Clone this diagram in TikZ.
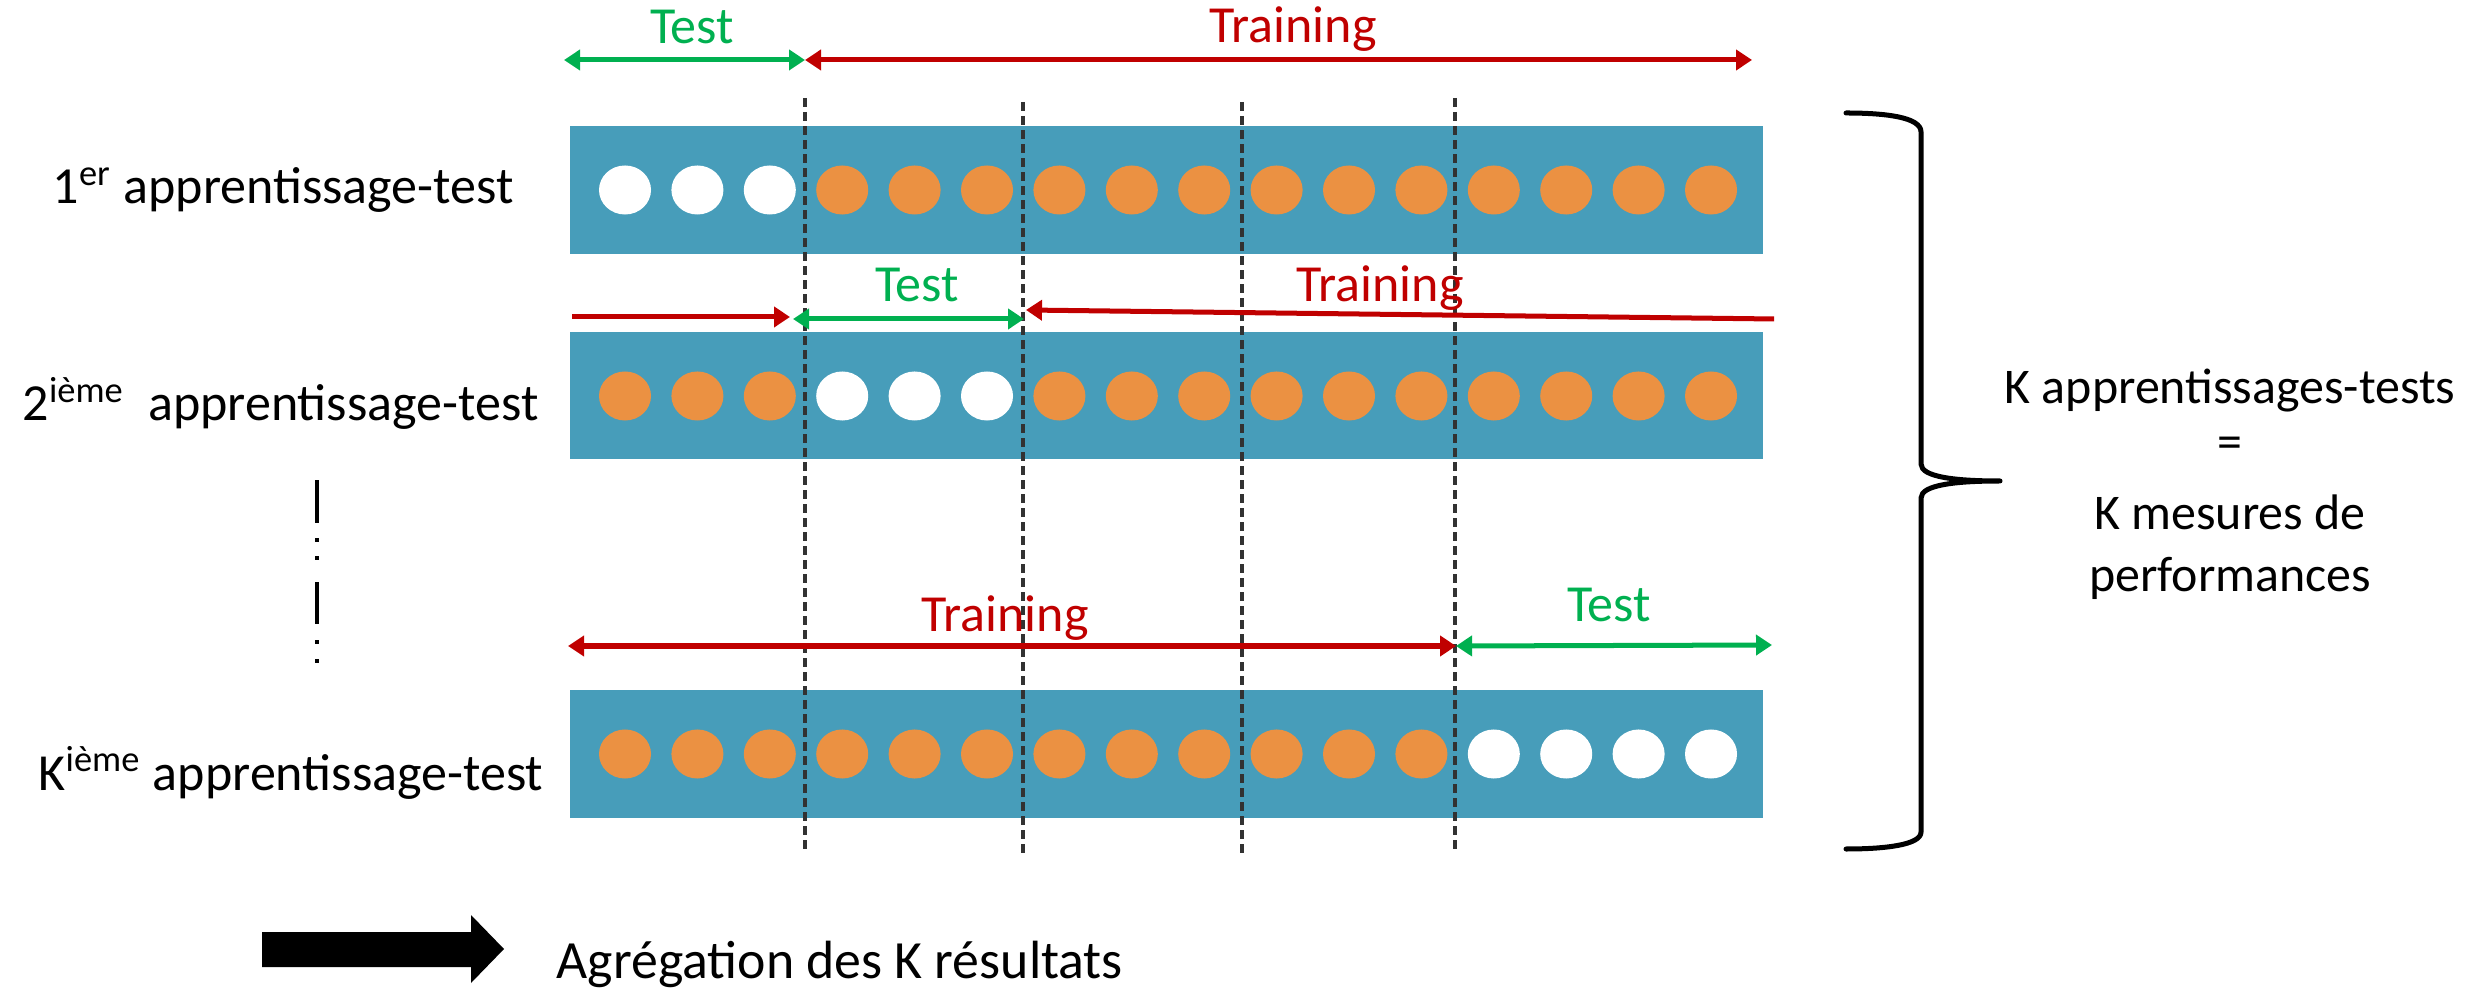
\documentclass[tikz,border=0pt]{standalone}
\usepackage{fontspec}
\setmainfont{Carlito}
\usetikzlibrary{arrows.meta}

\definecolor{barblue}{RGB}{71,157,186}
\definecolor{dotorange}{RGB}{235,145,66}
\definecolor{testgreen}{RGB}{0,176,80}
\definecolor{trainred}{RGB}{192,0,0}
\definecolor{splitgray}{RGB}{50,50,50}

\begin{document}
\begin{tikzpicture}[x=0.01cm, y=-0.01cm,
  foldbar/.style={fill=barblue},
  trainpt/.style={fill=dotorange},
  testpt/.style={fill=white},
  split/.style={draw=splitgray, line width=0.035cm, dash pattern=on 0.09cm off 0.05cm},
  span/.style={line width=0.05cm, arrows={-Triangle[length=0.16cm, width=0.2cm]}},
  bothspan/.style={line width=0.05cm, arrows={Triangle[length=0.16cm, width=0.2cm]-Triangle[length=0.16cm, width=0.2cm]}},
  phase/.style={font=\fontsize{14.8}{17}\selectfont, inner sep=0pt, anchor=base},
  rowlabel/.style={font=\fontsize{14.8}{17}\selectfont, inner sep=0pt, anchor=base west},
  summary/.style={font=\fontsize{14.2}{17}\selectfont, inner sep=0pt, anchor=base},
  brace/.style={draw=black, line width=0.05cm, line cap=round, line join=round}
]
\useasboundingbox (0,0) rectangle (2489,989);

% the three folds: blue bands
\fill[foldbar] (570,126) rectangle (1763,254);
\fill[foldbar] (570,332) rectangle (1763,459);
\fill[foldbar] (570,690) rectangle (1763,818);

% sixteen samples per fold; white ones are the test part
\foreach \i in {0,...,15}{
  \pgfmathsetmacro{\cx}{625+72.4*\i}
  \ifnum\i<3 \def\sA{testpt}\else\def\sA{trainpt}\fi
  \ifnum\i<3 \def\sB{trainpt}\else\ifnum\i<6 \def\sB{testpt}\else\def\sB{trainpt}\fi\fi
  \ifnum\i<12 \def\sC{trainpt}\else\def\sC{testpt}\fi
  \fill[\sA] (\cx,190) ellipse [x radius=0.26cm, y radius=0.245cm];
  \fill[\sB] (\cx,396) ellipse [x radius=0.26cm, y radius=0.245cm];
  \fill[\sC] (\cx,754) ellipse [x radius=0.26cm, y radius=0.245cm];
}

% fold boundaries
\coordinate (s1t) at (805,98);   \coordinate (s1b) at (805,853);
\coordinate (s2t) at (1023,102); \coordinate (s2b) at (1023,853);
\coordinate (s3t) at (1242,102); \coordinate (s3b) at (1242,853);
\coordinate (s4t) at (1455,98);  \coordinate (s4b) at (1455,853);
\draw[split] (s1t) -- (s1b);
\draw[split] (s2t) -- (s2b);
\draw[split] (s3t) -- (s3b);
\draw[split] (s4t) -- (s4b);

% first fold: test | training
\coordinate (a1l) at (564,60);
\coordinate (a1m) at (805,60);
\coordinate (a1r) at (1752,60);
\draw[bothspan, testgreen] (a1l) -- (a1m);
\draw[bothspan, trainred] (a1m) -- (a1r);
\node[phase, text=testgreen] (test1) at (692,44) {Test};
\node[phase, text=trainred] (train1) at (1293,43) {Training};

% second fold: training | test | training
\coordinate (a2l) at (572,317);
\coordinate (a2a) at (790,317);
\coordinate (a2b) at (793,319);
\coordinate (a2c) at (1024,319);
\coordinate (a2d) at (1026,310);
\coordinate (a2r) at (1774,319);
\draw[span, trainred] (a2l) -- (a2a);
\draw[bothspan, testgreen] (a2b) -- (a2c);
\draw[span, trainred] (a2r) -- (a2d);
\node[phase, text=testgreen] (test2) at (917,302) {Test};
\node[phase, text=trainred] (train2) at (1380,302) {Training};

% last fold: training | test
\coordinate (aKl) at (568,646);
\coordinate (aKm) at (1456,646);
\coordinate (aKr) at (1772,645);
\draw[bothspan, trainred] (aKl) -- (aKm);
\draw[bothspan, testgreen] (aKm) -- (aKr);
\node[phase, text=trainred] (trainK) at (1005,632) {Training};
\node[phase, text=testgreen] (testK) at (1609,622) {Test};

% row labels
\node[rowlabel] (lab1) at (52,204) {1\textsuperscript{er} apprentissage-test};
\node[rowlabel] (lab2) at (22,421) {2\textsuperscript{ième}\ \ apprentissage-test};
\node[rowlabel] (labK) at (38,790) {K\textsuperscript{ième} apprentissage-test};

% ellipsis between the second and the last fold
\fill (315,480) rectangle (319,523);
\fill (315,538) rectangle (319,542);
\fill (315,556) rectangle (319,560);
\fill (315,582) rectangle (319,624);
\fill (315,640) rectangle (319,644);
\fill (315,659) rectangle (319,663);

% brace grouping the K runs
\draw[brace] (1846,113) .. controls (1885,113) and (1921,117) .. (1921,132)
  -- (1921,464) .. controls (1921,477) and (1955,481) .. (2000,481)
  .. controls (1955,481) and (1921,485) .. (1921,498)
  -- (1921,832) .. controls (1921,845) and (1885,849) .. (1846,849);

\node[summary] (sum1) at (2230,404) {K apprentissages-tests};
\node[summary] (sum2) at (2230,459) {=};
\node[summary] (sum3) at (2230,530) {K mesures de};
\node[summary] (sum4) at (2230,592) {performances};

% aggregation step
\fill (262,932) -- (471,932) -- (471,915) -- (504,949) -- (471,983)
  -- (471,967) -- (262,967) -- cycle;
\node[rowlabel, font=\fontsize{15.3}{18}\selectfont] (agg) at (556,978) {Agrégation des K résultats};
\end{tikzpicture}
\end{document}
